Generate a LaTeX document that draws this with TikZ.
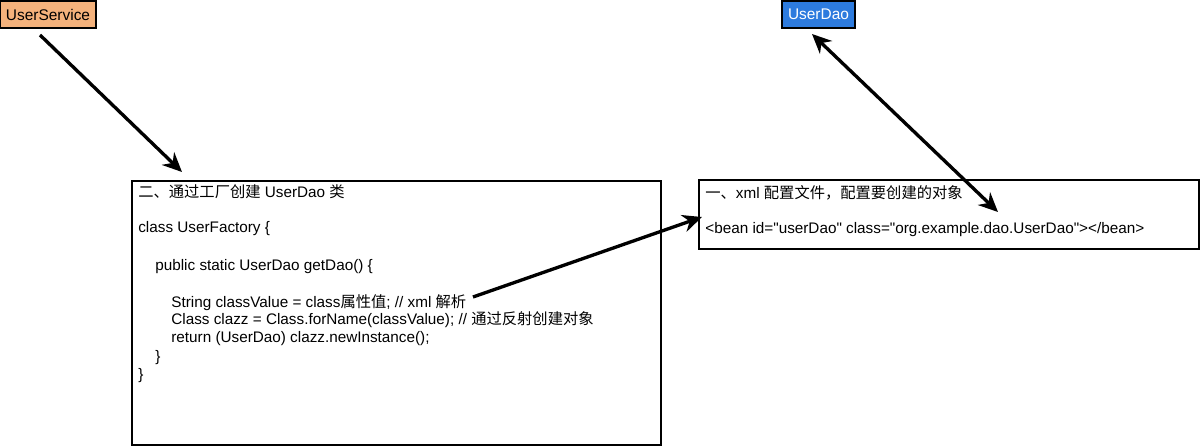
\documentclass[tikz,border=0pt]{standalone}
\usepackage{fontspec}
\setmainfont{Liberation Sans}[Ligatures=TeXOff]
\newfontfamily\zhfont{Noto Sans CJK SC}
\usetikzlibrary{arrows.meta}
\definecolor{svcorange}{HTML}{F4B27C}
\definecolor{daoblue}{HTML}{2D7BDE}
\tikzset{
  labelbox/.style={draw=black, line width=1.2pt, minimum height=0.54cm, inner sep=0pt, font=\fontsize{8.8pt}{10pt}\selectfont},
  codebox/.style={draw=black, line width=1.2pt, anchor=north west, inner sep=0pt},
  codeline/.style={anchor=base west, inner sep=0pt, font=\fontsize{8.7pt}{10pt}\selectfont},
  arr/.style={line width=1.9pt, -{Stealth[length=11pt,width=10pt]}},
  twoarr/.style={line width=1.9pt, {Stealth[length=11pt,width=10pt]}-{Stealth[length=11pt,width=10pt]}},
}
\begin{document}
\begin{tikzpicture}[x=0.02cm,y=-0.02cm]
\useasboundingbox (0,0) rectangle (1201,446);

% boxes
\node[labelbox, fill=svcorange, minimum width=1.92cm] (svc) at (48,14.5) {UserService};
\node[labelbox, fill=daoblue, text=white, minimum width=1.46cm] (dao) at (818.5,14.5) {UserDao};
\node[codebox, minimum width=10.58cm, minimum height=5.28cm] (factory) at (131,180) {};
\node[codebox, minimum width=10cm, minimum height=1.38cm] (xml) at (698,179) {};

% factory code
\node[codeline] (f1) at (138,197) {{\zhfont 二、通过工厂创建} UserDao {\zhfont 类}};
\node[codeline] (f2) at (138,233) {class UserFactory \{};
\node[codeline] (f3) at (155,270) {public static UserDao getDao() \{};
\node[codeline] (f4) at (171,307) {String classValue = class{\zhfont 属性值}; // xml {\zhfont 解析}};
\node[codeline] (f5) at (171,324) {Class clazz = Class.forName(classValue); // {\zhfont 通过反射创建对象}};
\node[codeline] (f6) at (171,342) {return (UserDao) clazz.newInstance();};
\node[codeline] (f7) at (155,361) {\}};
\node[codeline] (f8) at (138,379) {\}};

% xml config
\node[codeline] (x1) at (705,198) {{\zhfont 一、}xml {\zhfont 配置文件，配置要创建的对象}};
\node[codeline] (x2) at (705,234) {<bean id="userDao" class="org.example.dao.UserDao"></bean>};

% arrows
\coordinate (svcout) at (40,35);
\coordinate (factoryin) at (182,172);
\coordinate (daoin) at (812,34);
\coordinate (beanin) at (998,212);
\coordinate (xmlnote) at (473,297);
\coordinate (xmlin) at (702,217);
\draw[arr] (svcout) -- (factoryin);
\draw[twoarr] (daoin) -- (beanin);
\draw[arr] (xmlnote) -- (xmlin);
\end{tikzpicture}
\end{document}
